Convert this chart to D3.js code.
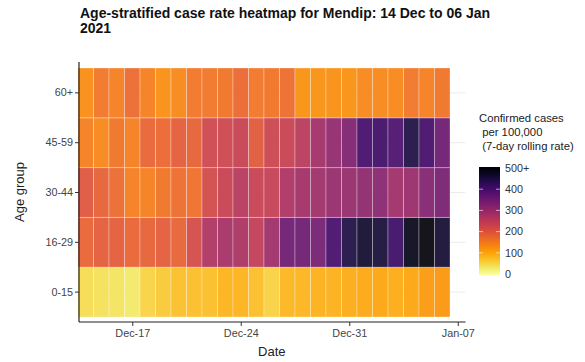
<!DOCTYPE html>
<html>
<head>
<meta charset="utf-8">
<script src="https://cdn.jsdelivr.net/npm/d3@7"></script>
<style>
  html, body { margin: 0; padding: 0; background: #fff; }
  svg { display: block; font-family: "Liberation Sans", Arial, sans-serif; }
</style>
</head>
<body>
<svg id="chart" width="585" height="362"></svg>
<script>
// ---- data ----
const titleLines = ["Age-stratified case rate heatmap for Mendip: 14 Dec to 06 Jan", "2021"];
const ageGroups = ["0-15", "16-29", "30-44", "45-59", "60+"];
const dates = ["2020-12-14","2020-12-15","2020-12-16","2020-12-17","2020-12-18","2020-12-19","2020-12-20","2020-12-21",
  "2020-12-22","2020-12-23","2020-12-24","2020-12-25","2020-12-26","2020-12-27","2020-12-28","2020-12-29",
  "2020-12-30","2020-12-31","2021-01-01","2021-01-02","2021-01-03","2021-01-04","2021-01-05","2021-01-06"];
const rate_0_15  = [45,42,38,33,55,65,75,77,78,88,88,78,58,85,87,90,92,97,100,102,97,103,115,120];
const rate_16_29 = [180,190,190,180,185,190,183,215,268,280,272,245,290,350,350,340,395,445,462,455,412,480,492,458];
const rate_30_44 = [200,185,170,148,145,160,168,165,220,235,258,238,240,270,285,290,300,300,310,318,288,295,325,338];
const rate_45_59 = [145,138,160,148,180,175,190,185,225,228,235,195,230,235,255,285,305,330,400,405,390,445,400,350];
const rate_60p   = [130,158,148,170,146,128,135,158,158,160,175,158,160,168,125,125,128,124,138,138,135,158,148,160];
const xTicks = ["2020-12-17","2020-12-24","2020-12-31","2021-01-07"];
const legendTicks = [0,100,200,300,400,500];
const legendLabels = ["0","100","200","300","400","500+"];
const legendTitle = ["Confirmed cases", " per 100,000", " (7-day rolling rate)"];

const seriesByAge = {"0-15": rate_0_15, "16-29": rate_16_29, "30-44": rate_30_44, "45-59": rate_45_59, "60+": rate_60p};
const parse = d3.utcParse("%Y-%m-%d");
const cells = [];
ageGroups.forEach(a => seriesByAge[a].forEach((v, i) => cells.push({age: a, date: parse(dates[i]), value: v})));

// ---- layout ----
const svg = d3.select("#chart");
const panel = {left: 78, right: 465.5, top: 62, bottom: 322};

const x = d3.scaleUtc()
  .domain([d3.utcHour.offset(parse(dates[0]), -12), d3.utcHour.offset(parse("2021-01-07"), 12)])
  .range([panel.left, panel.right]);
const dayW = x(parse(dates[1])) - x(parse(dates[0]));
const y = d3.scaleBand().domain(ageGroups.slice().reverse()).range([68, 317]).padding(0);
const color = v => d3.interpolateInferno(1 - Math.max(0, Math.min(500, v)) / 500);

// grid lines (horizontal)
svg.append("g").selectAll("line").data(ageGroups).join("line")
  .attr("x1", panel.left).attr("x2", panel.right)
  .attr("y1", d => y(d) + y.bandwidth()/2).attr("y2", d => y(d) + y.bandwidth()/2)
  .attr("stroke", "#ebebeb").attr("stroke-width", 1);

// tiles
svg.append("g").selectAll("rect").data(cells).join("rect")
  .attr("x", d => x(d.date) - dayW/2)
  .attr("y", d => y(d.age))
  .attr("width", dayW)
  .attr("height", y.bandwidth())
  .attr("fill", d => color(d.value))
  .attr("fill-opacity", 0.92)
  .attr("stroke", "#ffffff").attr("stroke-opacity", 0.3).attr("stroke-width", 1);

// axes
const xAxis = d3.axisBottom(x).tickValues(xTicks.map(parse)).tickFormat(d3.utcFormat("%b-%d")).tickSize(4).tickSizeOuter(0);
const gx = svg.append("g").attr("transform", `translate(0,${panel.bottom})`).call(xAxis);
gx.select(".domain").attr("d", `M${panel.left + 1},0H${panel.right}`).attr("stroke", "#222").attr("stroke-width", 1.2);
gx.selectAll(".tick line").attr("stroke", "#333");
gx.selectAll(".tick text").attr("fill", "#444").attr("font-size", "10.8px").attr("dy", "0.75em").attr("y", 7);

const yAxis = d3.axisLeft(y).tickSize(4).tickSizeOuter(0);
const gy = svg.append("g").attr("transform", `translate(${panel.left + 1},0)`).call(yAxis);
gy.select(".domain").attr("d", `M0,${panel.top}V${panel.bottom}`).attr("stroke", "#222").attr("stroke-width", 1.2);
gy.selectAll(".tick line").attr("stroke", "#333");
gy.selectAll(".tick text").attr("fill", "#444").attr("font-size", "10.8px").attr("x", -6);

// axis titles
svg.append("text").attr("x", (panel.left + panel.right) / 2).attr("y", 356)
  .attr("text-anchor", "middle").attr("font-size", "13px").attr("fill", "#222").text("Date");
svg.append("text").attr("transform", `translate(24,${(panel.top + panel.bottom) / 2}) rotate(-90)`)
  .attr("text-anchor", "middle").attr("font-size", "13px").attr("fill", "#222").text("Age group");

// title
svg.append("g").selectAll("text").data(titleLines).join("text")
  .attr("x", 80).attr("y", (d, i) => 18 + i * 14.5)
  .attr("font-size", "14px").attr("font-weight", "bold").attr("fill", "#111").text(d => d);

// legend
const lg = svg.append("g");
lg.selectAll("text.lt").data(legendTitle).join("text").attr("class", "lt")
  .attr("x", 479).attr("y", (d, i) => 122 + i * 13.8)
  .attr("font-size", "11.3px").attr("fill", "#222").attr("xml:space", "preserve").style("white-space", "pre").text(d => d);

const ly = d3.scaleLinear().domain([0, 500]).range([274, 168]);
const defs = svg.append("defs");
const grad = defs.append("linearGradient").attr("id", "lgrad").attr("x1", 0).attr("y1", 1).attr("x2", 0).attr("y2", 0);
d3.range(0, 1.0001, 0.05).forEach(t => grad.append("stop").attr("offset", t).attr("stop-color", color(t * 500)));
const barX = 479, barW = 21;
lg.append("rect").attr("x", barX).attr("y", ly(500) - 1).attr("width", barW).attr("height", ly(0) - ly(500) + 2)
  .attr("fill", "url(#lgrad)");
lg.selectAll("line.tk").data(legendTicks.slice(1, 5)).join("line").attr("class", "tk")
  .attr("x1", barX).attr("x2", barX + 4).attr("y1", d => ly(d)).attr("y2", d => ly(d))
  .attr("stroke", "#fff").attr("stroke-opacity", 0.6);
lg.selectAll("line.tk2").data(legendTicks.slice(1, 5)).join("line").attr("class", "tk2")
  .attr("x1", barX + barW - 4).attr("x2", barX + barW).attr("y1", d => ly(d)).attr("y2", d => ly(d))
  .attr("stroke", "#fff").attr("stroke-opacity", 0.6);
lg.selectAll("text.ll").data(legendTicks).join("text").attr("class", "ll")
  .attr("x", barX + barW + 5).attr("y", d => ly(d)).attr("dy", "0.35em")
  .attr("font-size", "10.8px").attr("fill", "#333").text((d, i) => legendLabels[i]);
</script>
</body>
</html>
